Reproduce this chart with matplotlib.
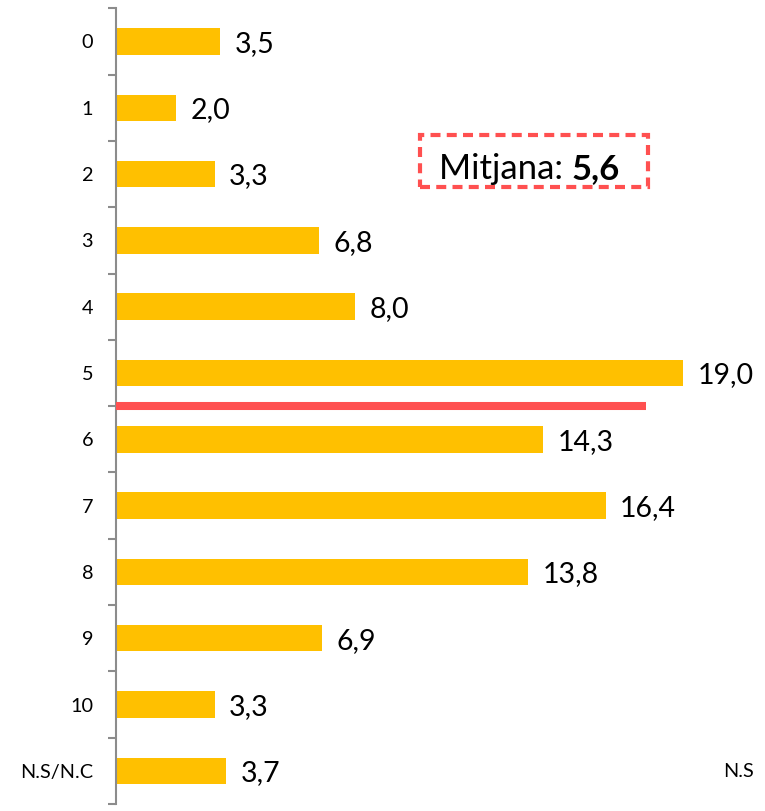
import matplotlib
matplotlib.use("Agg")
import matplotlib.pyplot as plt
from matplotlib.patches import Rectangle

categories = ["0", "1", "2", "3", "4", "5", "6", "7", "8", "9", "10", "N.S/N.C"]
values = [3.5, 2.0, 3.3, 6.8, 8.0, 19.0, 14.3, 16.4, 13.8, 6.9, 3.3, 3.7]
mean_label = "5,6"
mean_pos = 5.5          # position of the red mean line on the category axis
mean_line_len = 17.75   # length of the red mean line in value units

BAR = "#FFC000"
RED = "#FF5050"
GRAY = "#8C8C8C"
FONT = ["Lato", "DejaVu Sans"]

plt.rcParams["font.family"] = FONT

W, H = 765, 811
fig = plt.figure(figsize=(W / 100, H / 100), dpi=100)
ax = fig.add_axes([116 / W, 7 / H, 1 - 116 / W, (804 - 8.3) / H])

y = list(range(len(categories)))
ax.barh(y, values, height=0.40, color=BAR, zorder=2)
ax.plot([0, mean_line_len], [mean_pos, mean_pos], color=RED, lw=5.8,
        solid_capstyle="butt", zorder=3)

for yi, v in zip(y, values):
    ax.annotate(f"{v:.1f}".replace(".", ","), xy=(v, yi), xytext=(10.5, -7.5),
                textcoords="offset points", va="baseline", ha="left",
                fontsize=20.5, color="black")

ax.set_ylim(len(categories) - 0.5, -0.5)
ax.set_xlim(0, (W - 116) / 29.85)

ax.set_yticks(y)
ax.set_yticklabels(categories, fontsize=14.3)
ax.set_yticks([i - 0.5 for i in range(len(categories) + 1)], minor=True)
ax.tick_params(axis="y", which="major", length=0, pad=16.5)
ax.tick_params(axis="y", which="minor", length=5.8, width=1.5, color=GRAY)
ax.set_xticks([])

for s in ["top", "right", "bottom"]:
    ax.spines[s].set_visible(False)
ax.spines["left"].set_color(GRAY)
ax.spines["left"].set_linewidth(1.5)
ax.set_facecolor("none")

# Mean annotation box
fig.patches.append(Rectangle((420 / W, 1 - 187 / H), 228 / W, 52 / H,
                             transform=fig.transFigure, fill=False,
                             edgecolor=RED, lw=3, linestyle=(0, (2.4, 1.5))))
t1 = fig.text(439 / W, 1 - 179 / H, "Mitjana: ", fontsize=25, va="baseline",
              ha="left", color="black")
fig.canvas.draw()
bb = t1.get_window_extent()
fig.text(bb.x1 / W, 1 - 179 / H, mean_label, fontsize=25, fontweight="bold",
         va="baseline", ha="left", color="black")

# Partly visible label from neighbouring chart
fig.text(723 / W, 1 - 777 / H, "N.S", fontsize=14.3, va="baseline",
         ha="left", color="black")

fig.savefig("out.png", dpi=100)
